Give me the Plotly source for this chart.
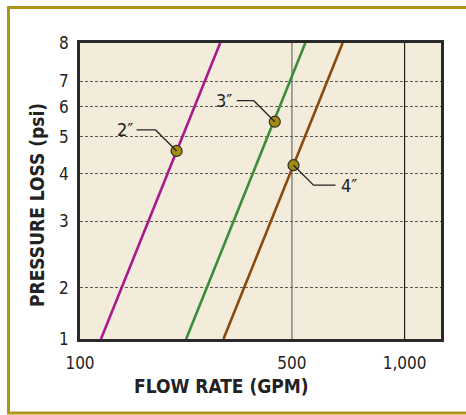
import plotly.graph_objects as go
import math

# ---- data ----
pipe_sizes = ["2″", "3″", "4″"]
line_colors = ["#A8198E", "#3C8D3A", "#8A4A0C"]
# each curve runs edge to edge: pressure at bottom / top of the plot
pressure_psi = [1.468, 8.83]
flow_2in = [154.5, 321.6]
flow_3in = [260.9, 542.9]
flow_4in = [328.2, 683.1]
flows = [flow_2in, flow_3in, flow_4in]

# highlighted operating points
dot_flow = [246, 450, 505]
dot_pressure = [4.59, 5.48, 4.21]

# axis ticks (edge labels sit on the plot borders as in the original)
x_tick_vals = [135.8, 500, 1000]
x_tick_text = ["100", "500", "1,000"]
y_tick_vals = [1.468, 2, 3, 4, 5, 6, 7, 8.83]
y_tick_text = ["1", "2", "3", "4", "5", "6", "7", "8"]
x_range = [135.8, 1251]
y_range = [1.468, 8.83]
vline_vals = [500, 1000]
vline_colors = ["#8C8C8C", "#222222"]
vline_widths = [1.6, 1.2]

FONT = "Liberation Sans Narrow, Arial Narrow, DejaVu Sans Condensed, sans-serif"

fig = go.Figure()
for name, fl, col in zip(pipe_sizes, flows, line_colors):
    fig.add_trace(go.Scatter(x=fl, y=pressure_psi, mode="lines",
                             line=dict(color=col, width=2.6),
                             name=name, showlegend=False, hoverinfo="skip"))

fig.add_trace(go.Scatter(x=dot_flow, y=dot_pressure, mode="markers",
                         marker=dict(size=11, color="#A38B0E",
                                     line=dict(color="#2b2b2b", width=1.2)),
                         showlegend=False, hoverinfo="skip", cliponaxis=False))

shapes = []
for v, c, w in zip(vline_vals, vline_colors, vline_widths):
    shapes.append(dict(type="line", xref="x", yref="paper", x0=v, x1=v, y0=0, y1=1,
                       line=dict(color=c, width=w), layer="between"))

# leader lines (pixel offsets relative to each dot)
leader_paths = [
    "M -40 21 L -21 21 L 0 0",
    "M -38 21 L -21 21 L 0 0",
    "M 42 -20 L 20 -20 L 0 0",
]
for fx, py, p in zip(dot_flow, dot_pressure, leader_paths):
    shapes.append(dict(type="path", xref="x", yref="y",
                       xsizemode="pixel", ysizemode="pixel",
                       xanchor=fx, yanchor=py, path=p,
                       line=dict(color="#222222", width=1.3), layer="above"))

# gold outer frame
shapes.append(dict(type="rect", xref="paper", yref="paper",
                   x0=(8.5 - 80) / 361, x1=(470 - 80) / 361,
                   y0=(339 - 413) / 296, y1=(339 - 7.5) / 296,
                   line=dict(color="#AD951C", width=3), layer="below"))
# soft shadow on the right / bottom of the plot frame
shapes.append(dict(type="path", xref="paper", yref="paper",
                   path="M 1.006 0.99 L 1.006 -0.006 L 0.01 -0.006",
                   line=dict(color="#9a9a9a", width=1.5), layer="below"))

annotations = []
label_offsets = [(-42, 21, "right"), (-41, 21, "right"), (45, -20, "left")]
for name, fx, py, (dx, dy, anc) in zip(pipe_sizes, dot_flow, dot_pressure, label_offsets):
    annotations.append(dict(x=math.log10(fx), y=math.log10(py), xref="x", yref="y",
                            text=name, showarrow=False, xanchor=anc, yanchor="middle",
                            xshift=dx, yshift=dy,
                            font=dict(family=FONT, size=18, color="#222222")))

annotations.append(dict(x=(221 - 80) / 361, y=(339 - 386) / 296, xref="paper", yref="paper",
                        text="<b>FLOW RATE (GPM)</b>", showarrow=False,
                        xanchor="center", yanchor="middle",
                        font=dict(family=FONT, size=19, color="#222222")))
annotations.append(dict(x=(37 - 80) / 361, y=(339 - 205) / 296, xref="paper", yref="paper",
                        text="<b>PRESSURE LOSS (psi)</b>", showarrow=False, textangle=-90,
                        xanchor="center", yanchor="middle",
                        font=dict(family=FONT, size=19, color="#222222")))

fig.update_layout(
    width=466, height=415,
    margin=dict(l=80, r=25, t=43, b=76),
    paper_bgcolor="white", plot_bgcolor="#F4ECDB",
    shapes=shapes, annotations=annotations,
    xaxis=dict(type="log", range=[math.log10(x_range[0]), math.log10(x_range[1])],
               tickvals=x_tick_vals, ticktext=x_tick_text, showgrid=False,
               showline=True, mirror=True, linecolor="#2a2a2a", linewidth=2.5,
               ticks="", ticklabelstandoff=7, zeroline=False,
               tickfont=dict(family=FONT, size=17, color="#222222")),
    yaxis=dict(type="log", range=[math.log10(y_range[0]), math.log10(y_range[1])],
               tickvals=y_tick_vals, ticktext=y_tick_text, showgrid=True,
               gridcolor="#5a5a5a", griddash="3px,2px", gridwidth=1,
               showline=True, mirror=True, linecolor="#2a2a2a", linewidth=2.5,
               ticks="", ticklabelstandoff=5, zeroline=False,
               tickfont=dict(family=FONT, size=17, color="#222222")),
)

fig.write_html("out.html", config={"displayModeBar": False},
               post_script="document.body.style.margin='0';document.body.style.overflow='hidden';")
